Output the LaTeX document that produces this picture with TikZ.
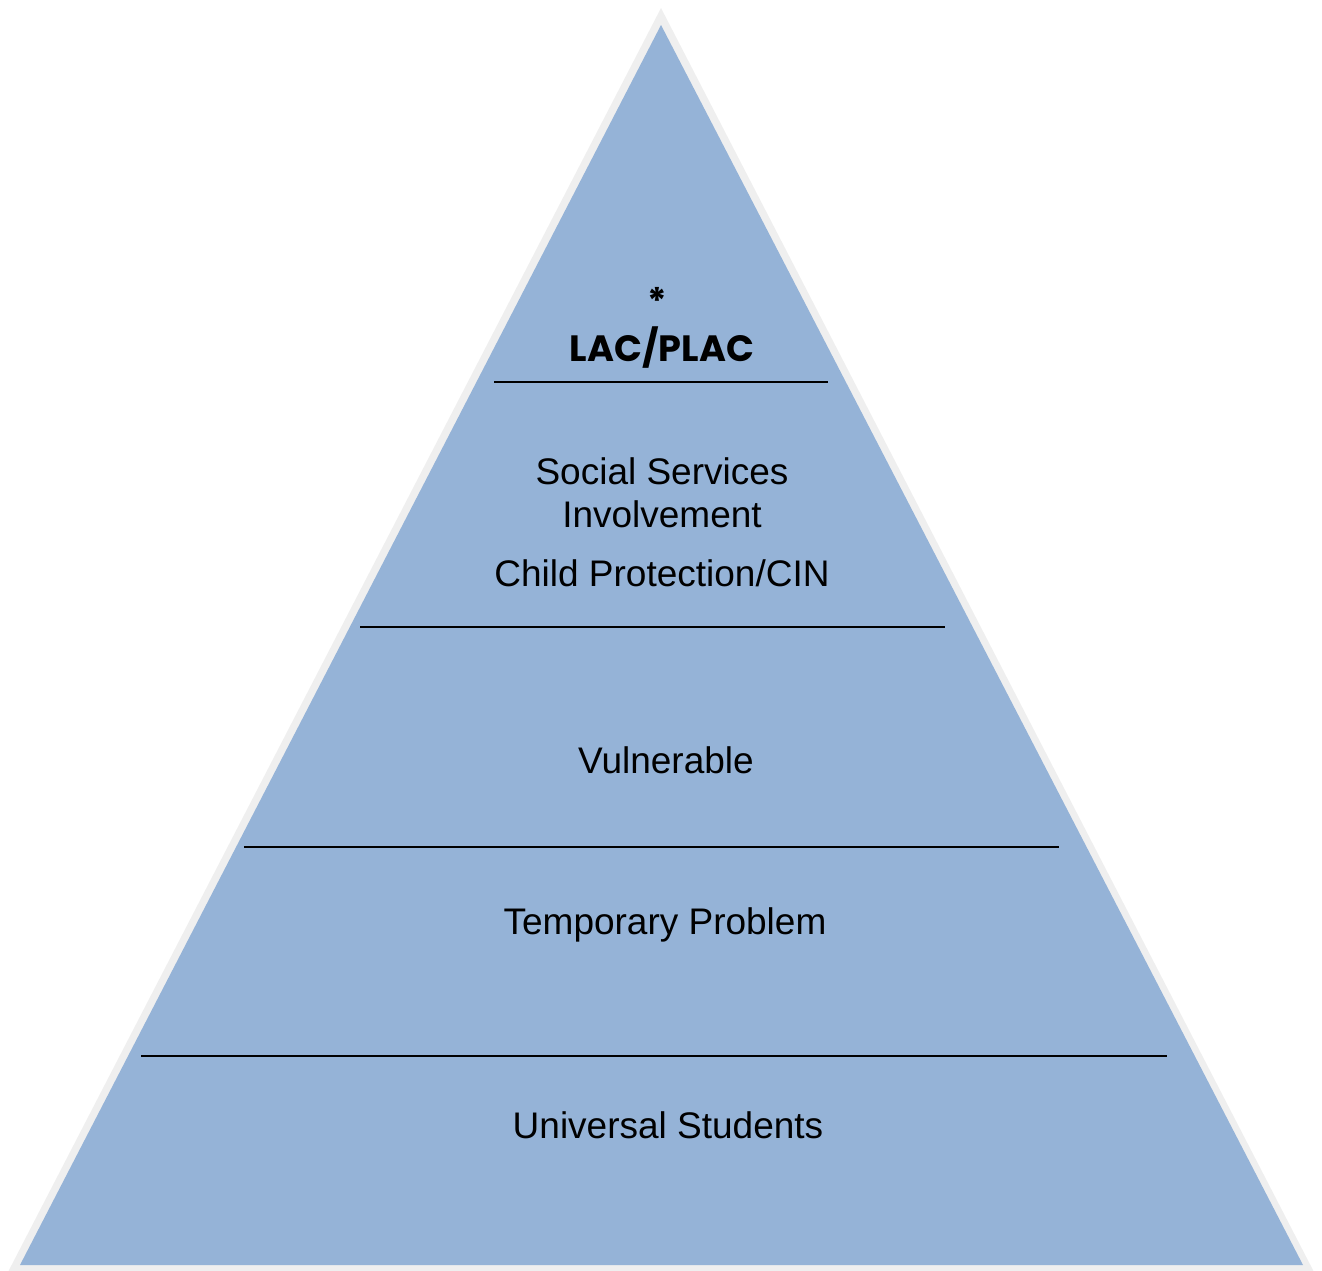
\documentclass[tikz,border=0pt]{standalone}
\usepackage{fontspec}
\setmainfont{Liberation Sans}
\newfontfamily\headfont{Poppins}
\definecolor{tierblue}{HTML}{95B3D7}
\definecolor{rimgray}{HTML}{EFEFEF}
\begin{document}
\begin{tikzpicture}[x=0.5pt,y=-0.5pt,
  label text/.style={font=\fontsize{18.5pt}{21pt}\selectfont, text=black, inner sep=0pt, anchor=base},
  head text/.style={font=\headfont\bfseries\fontsize{18.3pt}{21pt}\selectfont, text=black, inner sep=0pt, anchor=base},
  divider/.style={draw=black, line width=1pt}]
\useasboundingbox (0,0) rectangle (1322,1270);
% outer rim and pyramid body
\fill[rimgray] (661,8) -- (1314,1272) -- (8,1272) -- cycle;
\fill[tierblue] (661,25) -- (1303,1265) -- (20,1265) -- cycle;
% tier dividers
\coordinate (d1l) at (494,382);  \coordinate (d1r) at (828,382);
\coordinate (d2l) at (360,627);  \coordinate (d2r) at (945,627);
\coordinate (d3l) at (244,847);  \coordinate (d3r) at (1059,847);
\coordinate (d4l) at (141,1056); \coordinate (d4r) at (1167,1056);
\draw[divider] (d1l) -- (d1r);
\draw[divider] (d2l) -- (d2r);
\draw[divider] (d3l) -- (d3r);
\draw[divider] (d4l) -- (d4r);
% tier labels
\node[head text] (star) at (657,314) {*};
\node[head text] (lac) at (662,361) {LAC/PLAC};
\node[label text] (soc) at (662,484) {Social Services};
\node[label text] (inv) at (662,527) {Involvement};
\node[label text] (cp) at (662,586) {Child Protection/CIN};
\node[label text] (vul) at (666,773) {Vulnerable};
\node[label text] (temp) at (665,934) {Temporary Problem};
\node[label text] (univ) at (668,1138) {Universal Students};
\end{tikzpicture}
\end{document}
